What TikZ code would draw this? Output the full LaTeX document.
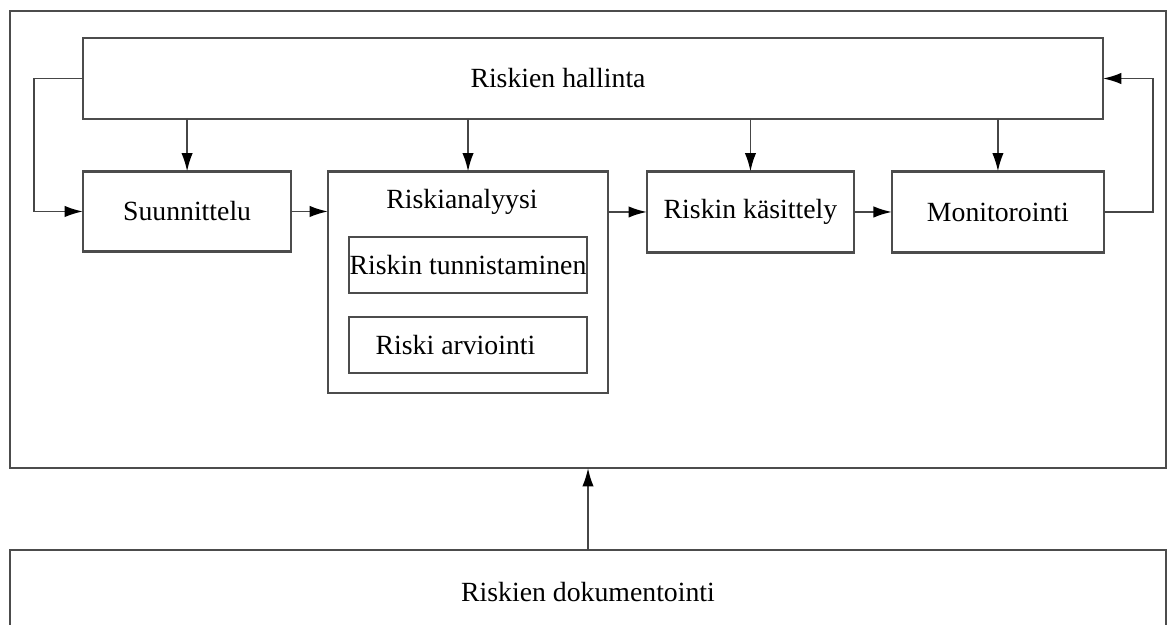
\documentclass[tikz,border=0pt]{standalone}
\usepackage{fontspec}
\setmainfont{Liberation Serif}
\usetikzlibrary{positioning,arrows.meta}

\tikzset{
  laatikko/.style={draw=gray!60!black, line width=1.2pt, rectangle, outer sep=0pt, inner sep=0pt},
  nuoli/.style={draw=gray!55!black, line width=1.1pt, -{Latex[length=10.5pt,width=6.5pt,black]}},
  teksti/.style={inner sep=0pt}
}

\begin{document}
\begin{tikzpicture}[x=0.02cm, y=-0.02cm, font=\fontsize{15.8}{19}\selectfont]
\useasboundingbox (0,0) rectangle (1171,625);
\node[laatikko, minimum width=23.12cm, minimum height=9.14cm] (kehys) at (588,239.5) {};
\node[laatikko, minimum width=20.4cm, minimum height=1.62cm,
  label={[teksti, xshift=-0.7cm]center:Riskien hallinta}] (hallinta) at (593,78.5) {};
\node[laatikko, minimum width=4.16cm, minimum height=1.6cm, below=1.05cm of hallinta.south west, anchor=north west] (suunnittelu) {Suunnittelu};
\node[laatikko, minimum width=5.6cm, minimum height=4.44cm, right=0.74cm of suunnittelu.north east, anchor=north west] (analyysi) {};
\node[teksti] (analyysiotsikko) at (462,202) {Riskianalyysi};
\node[laatikko, minimum width=4.76cm, minimum height=1.12cm] (tunnistaminen) at (468,265) {Riskin tunnistaminen};
\node[laatikko, minimum width=4.76cm, minimum height=1.12cm, below=0.48cm of tunnistaminen] (arviointi) {Riski arviointi\hspace*{0.5cm}};
\node[laatikko, minimum width=4.14cm, minimum height=1.62cm, right=0.78cm of analyysi.north east, anchor=north west] (kasittely) {Riskin käsittely};
\node[laatikko, minimum width=4.24cm, minimum height=1.62cm, right=0.76cm of kasittely.north east, anchor=north west] (monitorointi) {Monitorointi};
\node[laatikko, minimum width=23.12cm, minimum height=1.68cm, below=1.64cm of kehys] (dokumentointi) {Riskien dokumentointi};

\foreach \n in {suunnittelu,analyysi,kasittely,monitorointi}
  \draw[nuoli] (hallinta.south -| \n.north) -- (\n.north);
\draw[nuoli] (suunnittelu.east) -- (suunnittelu.east -| analyysi.west);
\draw[nuoli] (kasittely.west -| analyysi.east) -- (kasittely.west);
\draw[nuoli] (kasittely.east) -- (monitorointi.west);
\draw[nuoli] (hallinta.west) -- ++(-49,0) |- (suunnittelu.west);
\draw[nuoli] (monitorointi.east) -- ++(49,0) |- (hallinta.east);
\draw[nuoli] (dokumentointi.north) -- (kehys.south);
\end{tikzpicture}
\end{document}
